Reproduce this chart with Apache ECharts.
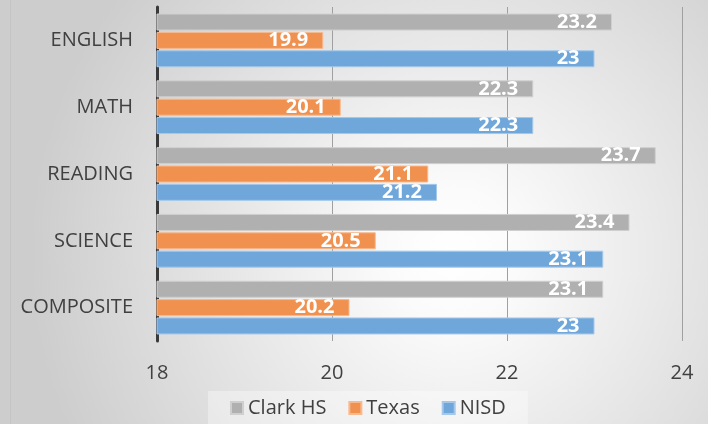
<!DOCTYPE html>
<html>
<head>
<meta charset="utf-8">
<script src="https://cdn.jsdelivr.net/npm/echarts@6/dist/echarts.min.js"></script>
<style>
  html, body { margin: 0; padding: 0; }
  #chart { width: 708px; height: 424px; }
</style>
</head>
<body>
<div id="chart"></div>
<script>
const subjects = ['ENGLISH', 'MATH', 'READING', 'SCIENCE', 'COMPOSITE'];
const clarkHs = [23.2, 22.3, 23.7, 23.4, 23.1];
const texas = [19.9, 20.1, 21.1, 20.5, 20.2];
const nisd = [23, 22.3, 21.2, 23.1, 23];
const xTicks = [18, 20, 22, 24];

const textColor = '#404040';
const font = '"Open Sans", sans-serif';

// one bar series per group, labels inside the bar end like in Excel
function barSeries(name, data, color, edge) {
    return {
        name: name,
        type: 'bar',
        data: data,
        barWidth: 17,
        barGap: '8%',
        itemStyle: {
            color: color,
            borderColor: edge,
            borderWidth: 1
        },
        label: {
            show: true,
            position: 'insideRight',
            distance: 15,
            color: '#ffffff',
            fontWeight: 'bold',
            fontSize: 20,
            fontFamily: font
        }
    };
}

const chart = echarts.init(document.getElementById('chart'));

const option = {
    backgroundColor: {
        type: 'radial',
        x: 0.64, y: 0.6, r: 1.0,
        colorStops: [
            { offset: 0, color: '#ffffff' },
            { offset: 0.15, color: '#fbfbfb' },
            { offset: 1, color: '#cdcdcd' }
        ]
    },
    textStyle: { fontFamily: font },
    graphic: [
        {
            type: 'line',
            shape: { x1: 10.5, y1: 0, x2: 10.5, y2: 424 },
            style: { stroke: '#c4c4c4', lineWidth: 1 }
        }
    ],
    grid: { left: 157, right: 26, top: 7, bottom: 83 },
    legend: {
        bottom: 0,
        left: 208,
        icon: 'rect',
        itemWidth: 12,
        itemHeight: 12,
        itemGap: 22,
        padding: [7, 22, 6, 22],
        backgroundColor: 'rgba(255,255,255,0.35)',
        textStyle: { fontSize: 20, color: textColor, fontFamily: font }
    },
    xAxis: {
        type: 'value',
        min: xTicks[0],
        max: xTicks[xTicks.length - 1],
        interval: 2,
        axisLine: { show: false },
        axisTick: { show: false },
        axisLabel: { fontSize: 20, color: textColor, margin: 22, fontFamily: font },
        splitLine: { lineStyle: { color: '#a0a0a0', width: 1 } }
    },
    yAxis: {
        type: 'category',
        inverse: true,
        data: subjects,
        axisLine: { show: true, lineStyle: { color: '#3a3a3a', width: 3 } },
        axisTick: { show: false },
        axisLabel: { fontSize: 20, color: textColor, margin: 24, fontFamily: font }
    },
    series: [
        barSeries('Clark HS', clarkHs, '#b0b0b0', '#cfcfcf'),
        barSeries('Texas', texas, '#f0914f', '#f7b98e'),
        barSeries('NISD', nisd, '#70a7db', '#a5c8ea')
    ]
};

chart.setOption(option);
window.addEventListener('resize', chart.resize);
</script>
</body>
</html>
